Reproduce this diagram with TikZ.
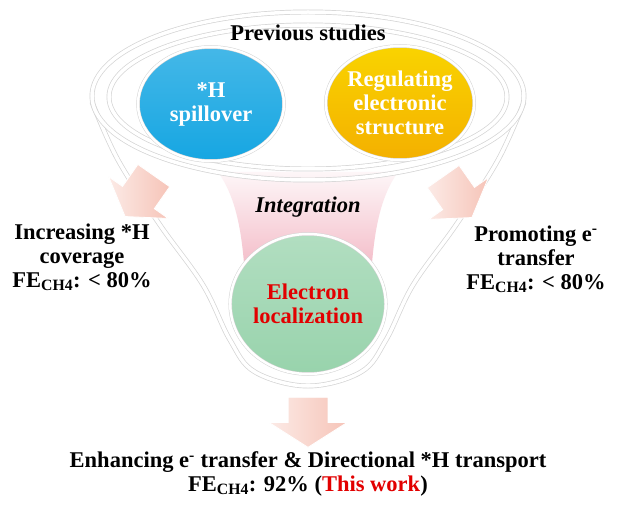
\documentclass[tikz,border=0pt]{standalone}
\usepackage{fontspec}
\setmainfont{Liberation Serif}
\usetikzlibrary{shapes.geometric, shapes.arrows}

\definecolor{spillblue}{RGB}{22,166,226}
\definecolor{regorange}{RGB}{244,176,0}
\definecolor{locgreen}{RGB}{152,211,172}
\definecolor{neckpink}{RGB}{240,168,184}
\definecolor{arrowpink}{RGB}{246,196,184}
\definecolor{rimgray}{RGB}{212,212,212}
\definecolor{workred}{RGB}{226,0,0}

\begin{document}
\begin{tikzpicture}[x=1pt, y=-1pt,
    txt/.style={font=\fontsize{22.5}{24}\selectfont\bfseries, align=center, inner sep=0pt},
    bubble/.style={ellipse, draw=rimgray, double=white, double distance=2.5pt, line width=0.5pt, txt},
    rim/.style={draw=rimgray, double=white, double distance=3.5pt, line width=0.7pt},
    pinkarrow/.style={single arrow, single arrow tip angle=115, single arrow head indent=0pt,
        left color=arrowpink!35!white, right color=arrowpink, draw=white, line width=0.8pt,
        inner xsep=0pt, minimum height=50pt}]
\fill[white] (0,0) rectangle (622,516);
\useasboundingbox (0,0) rectangle (622,516);

% funnel and rim
\draw[rim] plot[smooth, tension=0.6] coordinates {(92,102) (118,160) (160,225) (203,285) (230,340) (255,372) (308,386) (361,372) (386,340) (413,285) (456,225) (498,160) (524,102)};
\shade[top color=neckpink!10!white, bottom color=neckpink] (218,172) -- (398,172) .. controls (378,200) and (372,240) .. (370,300) -- (246,300) .. controls (244,240) and (238,200) .. (218,172) -- cycle;
\draw[rim] (308,96) ellipse [x radius=216, y radius=84];
\draw[rim] (308,97) ellipse [x radius=199, y radius=72];

\node[txt] (prev) at (308,33) {Previous studies};

\node[bubble, minimum width=146pt, minimum height=114pt, text=white,
      top color=spillblue!80!white, bottom color=spillblue] (spill) at (211,104) {*H\\spillover};
\node[bubble, minimum width=146pt, minimum height=114pt, text=white,
      top color=regorange!55!yellow, bottom color=regorange] (regul) at (400,103) {Regulating\\electronic\\structure};

\node[txt, font=\fontsize{22.5}{24}\selectfont\bfseries\itshape] (integ) at (308,207) {Integration};

\node[bubble, minimum width=154pt, minimum height=140pt, text=workred,
      top color=locgreen!75!white, bottom color=locgreen] (local) at (308,304) {Electron\\localization};

% arrows
\node[pinkarrow, rotate=235, inner ysep=19pt, single arrow head extend=17pt] (larrow) at (143,191) {};
\node[pinkarrow, rotate=-55, inner ysep=19pt, single arrow head extend=17pt] (rarrow) at (454,192) {};
\node[pinkarrow, rotate=-90, inner ysep=19.5pt, single arrow head extend=19pt] (darrow) at (308,416) {};

\node[txt] (left) at (82,257) {Increasing *H\\coverage\\FE\textsubscript{CH4}: < 80\%};
\node[txt] (right) at (536,259) {Promoting e\textsuperscript{-}\\transfer\\FE\textsubscript{CH4}: < 80\%};
\node[txt] (result) at (308,474) {Enhancing e\textsuperscript{-} transfer \& Directional *H transport\\
  FE\textsubscript{CH4}: 92\% (\textcolor{workred}{This work})};
\end{tikzpicture}
\end{document}
